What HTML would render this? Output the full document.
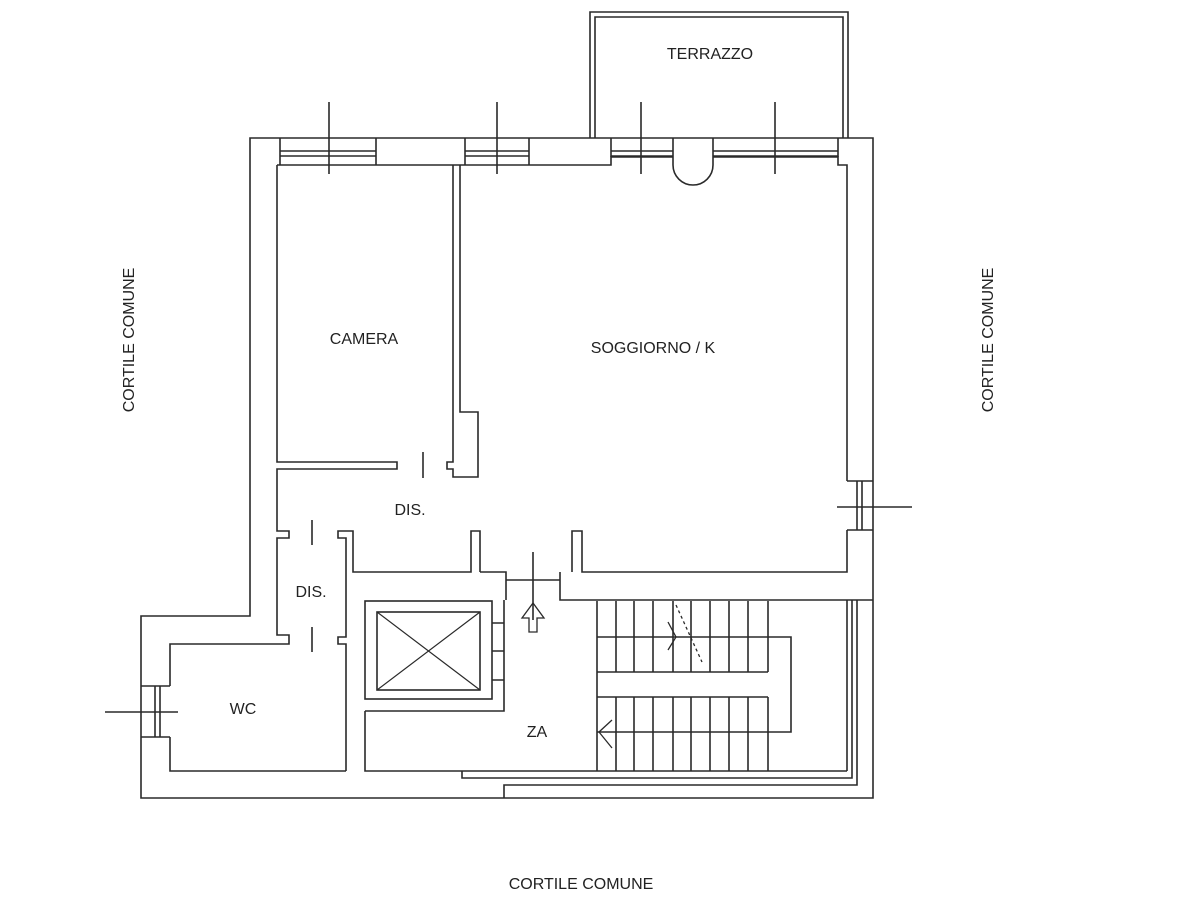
<!DOCTYPE html>
<html><head><meta charset="utf-8"><style>
html,body{margin:0;padding:0;background:#fff;}
svg{display:block;}
text{font-family:"Liberation Sans",sans-serif;font-size:16px;fill:#222;}
</style></head><body>
<svg width="1200" height="900" viewBox="0 0 1200 900" xmlns="http://www.w3.org/2000/svg">
<g fill="none" stroke="#2a2a2a" stroke-width="1.6">
<path d="M590,138 V12 H848 V138"/>
<path d="M595,138 V17 H843 V138"/>
<path d="M250,138 H873 V798 H141 V616 H250 Z"/>
<path d="M277,165 H611 V157 H673"/>
<path d="M713,157 H838 V165 H847 V481"/>
<path d="M280,138 V165 M376,138 V165 M280,151 H376 M280,156 H376"/>
<path d="M465,138 V165 M529,138 V165 M465,151 H529 M465,156 H529"/>
<path d="M611,151 H673 M611,156 H673 M713,151 H838 M713,156 H838 M611,138 V157 M838,138 V157"/>
<path d="M673,138 V165 A20,20 0 0 0 713,165 V138"/>
<path d="M329,102 V174 M497,102 V174 M641,102 V174 M775,102 V174"/>
<path d="M847,481 H873 M847,530 H873 M857,481 V530 M862,481 V530 M837,507 H912"/>
<path d="M847,530 V572 H582 V531 H572 V572"/>
<path d="M277,165 V462 H397 V469 H277 V531 H289 V538 H277 V635 H289 V644 H170 V686"/>
<path d="M453,165 V462 H447 V469 H453 V477 H478 V412 H460 V165"/>
<path d="M423,452 V478"/>
<path d="M346,771 V644 H338 V637 H346 V538 H338 V531 H353 V572 H471 V531 H480 V572"/>
<path d="M312,520 V545 M312,627 V652"/>
<path d="M170,737 V771 H346"/>
<path d="M141,686 H170 M141,737 H170 M155,686 V737 M160,686 V737 M105,712 H178"/>
<path d="M480,572 H506 V600 M560,572 V600 H873 M506,580 H560 M533,552 V620"/>
<path d="M504,600 V711 H365 M365,711 V771 H847"/>
<rect x="365" y="601" width="127" height="98"/>
<rect x="377" y="612" width="103" height="78"/>
<path d="M377,612 L480,690 M480,612 L377,690" stroke-width="1.2"/>
<path d="M492,623 H504 M492,651 H504 M492,680 H504"/>
<path d="M533,603 L522,618 H529 V632 H537 V618 H544 Z" stroke-width="1.3"/>
<path d="M597,601 V771 M768,601 V672 M768,697 V771 M597,637 H791 V732 H597 M597,672 H768 M597,697 H768"/>
<path d="M616,601 V672 M634,601 V672 M653,601 V672 M673,601 V672 M691,601 V672 M710,601 V672 M729,601 V672 M748,601 V672"/>
<path d="M616,697 V771 M634,697 V771 M653,697 V771 M673,697 V771 M691,697 V771 M710,697 V771 M729,697 V771 M748,697 V771"/>
<path d="M612,720 L599,732 L612,748 M668,622 L676,637 L668,650" stroke-width="1.3"/>
<path d="M676,605 L702,662" stroke-dasharray="3,3" stroke-width="1.3"/>
<path d="M847,600 V771 M852,600 V778 H462 V771 M857,600 V785 H504 V798"/>
</g>
<text x="710" y="59" text-anchor="middle">TERRAZZO</text>
<text x="364" y="344" text-anchor="middle">CAMERA</text>
<text x="653" y="353" text-anchor="middle">SOGGIORNO / K</text>
<text x="410" y="515" text-anchor="middle">DIS.</text>
<text x="311" y="597" text-anchor="middle">DIS.</text>
<text x="243" y="714" text-anchor="middle">WC</text>
<text x="537" y="737" text-anchor="middle">ZA</text>
<text x="581" y="889" text-anchor="middle">CORTILE COMUNE</text>
<text transform="translate(134,340) rotate(-90)" text-anchor="middle">CORTILE COMUNE</text>
<text transform="translate(993,340) rotate(-90)" text-anchor="middle">CORTILE COMUNE</text>
</svg>
</body></html>
